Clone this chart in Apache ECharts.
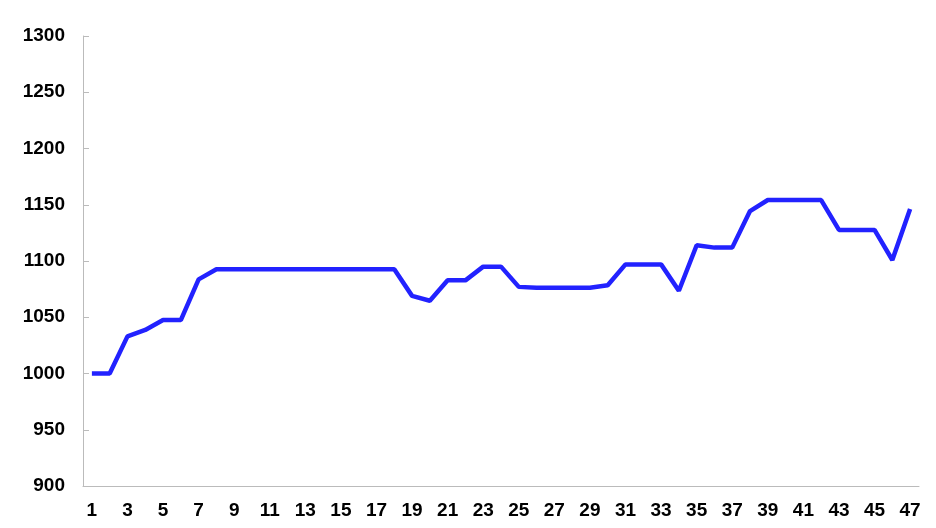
<!DOCTYPE html>
<html><head><meta charset="utf-8">
<script src="https://cdn.jsdelivr.net/npm/echarts@6/dist/echarts.min.js"></script>
<style>html,body{margin:0;padding:0;background:#fff}#c{width:936px;height:528px}</style>
</head><body><div id="c"></div>
<script>
const categories = Array.from({length: 47}, (_, i) => String(i + 1));
const values = [1000, 1000, 1033, 1038.7, 1047.5, 1047.5, 1083.7, 1092.6, 1092.6, 1092.6,
  1092.6, 1092.6, 1092.6, 1092.6, 1092.6, 1092.6, 1092.6, 1092.6, 1069, 1064.7,
  1082.8, 1082.8, 1095, 1095, 1077, 1076.3, 1076.3, 1076.3, 1076.3, 1078.4,
  1097, 1097, 1097, 1073.6, 1114, 1111.9, 1111.9, 1144.4, 1154.2, 1154.2,
  1154.2, 1154.2, 1127.6, 1127.6, 1127.6, 1100.9, 1146.2];
const chart = echarts.init(document.getElementById('c'));
const lbl = {fontFamily: 'Liberation Sans, Arial, sans-serif', fontWeight: 'bold', fontSize: 19, color: '#000'};
chart.setOption({
  animation: false,
  grid: {left: 83, right: 17, top: 36, bottom: 42},
  xAxis: {
    type: 'category', data: categories, boundaryGap: true,
    axisLine: {lineStyle: {color: '#bbb'}},
    axisTick: {inside: true, length: 6, lineStyle: {color: '#bbb'}},
    axisLabel: Object.assign({interval: 1, margin: 15}, lbl)
  },
  yAxis: {
    type: 'value', min: 900, max: 1300, interval: 50,
    axisLine: {show: true, lineStyle: {color: '#bbb'}},
    axisTick: {show: true, inside: true, length: 6, lineStyle: {color: '#bbb'}},
    splitLine: {show: false},
    axisLabel: Object.assign({margin: 18, formatter: v => String(v)}, lbl)
  },
  series: [{type: 'line', data: values, symbol: 'none', lineStyle: {color: '#2222ff', width: 4.5}}]
});
</script></body></html>
